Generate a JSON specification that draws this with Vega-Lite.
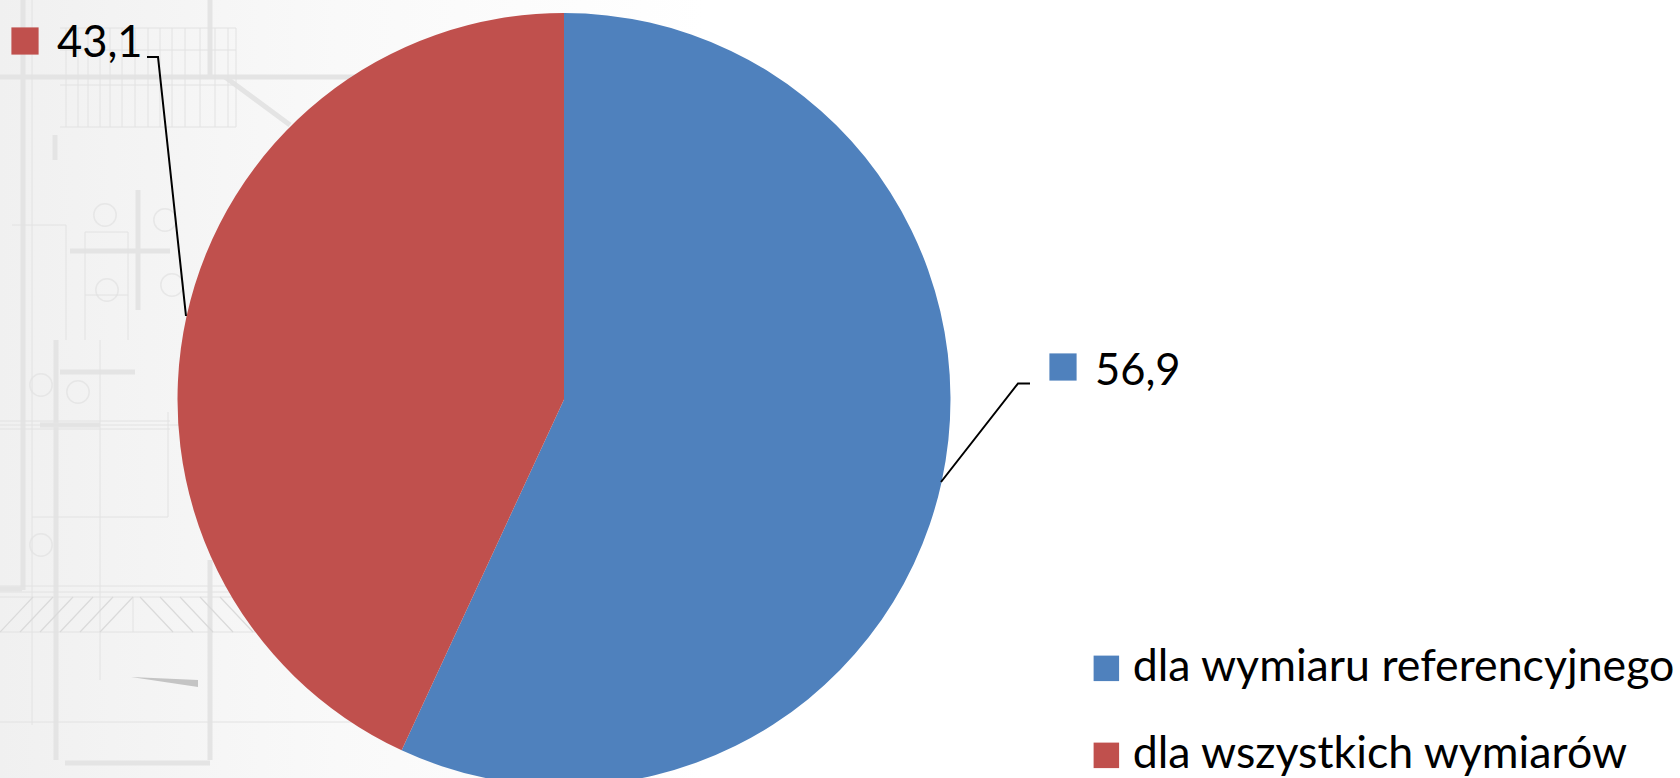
{
"$schema":"https://vega.github.io/schema/vega-lite/v6.json",
"width":1680,"height":778,"padding":0,"autosize":"none","background":"white",
"config":{"font":"Lato","view":{"stroke":null}},
"datasets":{
"udzial":[{"seria":"dla wymiaru referencyjnego","wartosc":56.9,"kolejnosc":1,"etykieta":"56,9","sx":1063,"sy":367,"tx":1095,"ty":385},{"seria":"dla wszystkich wymiarów","wartosc":43.1,"kolejnosc":2,"etykieta":"43,1","sx":25,"sy":41,"tx":57,"ty":57}],
"srodek":[{"seria":"dla wymiaru referencyjnego","wartosc":56.9,"kolejnosc":1},{"seria":"dla wszystkich wymiarów","wartosc":43.1,"kolejnosc":2}],
"linie":[{"id":"a","n":1,"x":1030,"y":383.5},{"id":"a","n":2,"x":1018,"y":383.5},{"id":"a","n":3,"x":941,"y":482},{"id":"b","n":1,"x":147,"y":57},{"id":"b","n":2,"x":158,"y":57},{"id":"b","n":3,"x":186,"y":316}],
"grube":[{"x":23,"y":0,"x2":23,"y2":590},{"x":210,"y":0,"x2":210,"y2":75},{"x":55,"y":135,"x2":55,"y2":160},{"x":138,"y":190,"x2":138,"y2":310},{"x":56,"y":340,"x2":56,"y2":760},{"x":210,"y":560,"x2":210,"y2":760},{"x":0,"y":77,"x2":420,"y2":77},{"x":225,"y":77,"x2":290,"y2":125},{"x":70,"y":251,"x2":170,"y2":251},{"x":0,"y":589,"x2":22,"y2":589},{"x":65,"y":763,"x2":210,"y2":763},{"x":40,"y":425,"x2":100,"y2":425},{"x":60,"y":372,"x2":135,"y2":372}],
"cienkie":[{"x":60,"y":28,"x2":236,"y2":28},{"x":60,"y":127,"x2":236,"y2":127},{"x":60,"y":50,"x2":236,"y2":50},{"x":60,"y":85,"x2":236,"y2":85},{"x":236,"y":28,"x2":236,"y2":127},{"x":66,"y":28,"x2":66,"y2":127},{"x":78,"y":28,"x2":78,"y2":127},{"x":88,"y":28,"x2":88,"y2":127},{"x":100,"y":28,"x2":100,"y2":127},{"x":110,"y":28,"x2":110,"y2":127},{"x":122,"y":28,"x2":122,"y2":127},{"x":135,"y":28,"x2":135,"y2":127},{"x":148,"y":28,"x2":148,"y2":127},{"x":160,"y":28,"x2":160,"y2":127},{"x":172,"y":28,"x2":172,"y2":127},{"x":185,"y":28,"x2":185,"y2":127},{"x":200,"y":28,"x2":200,"y2":127},{"x":215,"y":28,"x2":215,"y2":127},{"x":228,"y":28,"x2":228,"y2":127},{"x":32,"y":0,"x2":32,"y2":725},{"x":66,"y":225,"x2":66,"y2":340},{"x":85,"y":295,"x2":128,"y2":295},{"x":85,"y":232,"x2":128,"y2":232},{"x":85,"y":232,"x2":85,"y2":340},{"x":128,"y":232,"x2":128,"y2":340},{"x":12,"y":225,"x2":66,"y2":225},{"x":0,"y":421,"x2":170,"y2":421},{"x":0,"y":425,"x2":180,"y2":425},{"x":0,"y":429,"x2":170,"y2":429},{"x":32,"y":517,"x2":168,"y2":517},{"x":168,"y":412,"x2":168,"y2":517},{"x":0,"y":586,"x2":235,"y2":586},{"x":0,"y":592,"x2":235,"y2":592},{"x":0,"y":597,"x2":250,"y2":597},{"x":0,"y":632,"x2":270,"y2":632},{"x":0,"y":722,"x2":370,"y2":722},{"x":133,"y":597,"x2":133,"y2":632},{"x":100,"y":340,"x2":100,"y2":680}],
"kreskowanie":[{"x":0,"y":632,"x2":33,"y2":597},{"x":20,"y":632,"x2":53,"y2":597},{"x":40,"y":632,"x2":73,"y2":597},{"x":60,"y":632,"x2":93,"y2":597},{"x":80,"y":632,"x2":113,"y2":597},{"x":100,"y":632,"x2":133,"y2":597},{"x":140,"y":597,"x2":173,"y2":632},{"x":160,"y":597,"x2":193,"y2":632},{"x":180,"y":597,"x2":213,"y2":632},{"x":200,"y":597,"x2":233,"y2":632},{"x":220,"y":597,"x2":253,"y2":632},{"x":240,"y":597,"x2":270,"y2":630}],
"kola":[{"x":41,"y":385},{"x":41,"y":545},{"x":105,"y":215},{"x":107,"y":290},{"x":165,"y":220},{"x":172,"y":285},{"x":78,"y":392}],
"klin":[{"n":1,"x":131,"y":677},{"n":2,"x":198,"y":680},{"n":3,"x":198,"y":687},{"n":4,"x":131,"y":677}],
"tlo":[{"x":0,"y":0,"x2":1680,"y2":778}]
},
"encoding":{},
"layer":[
{"data":{"name":"tlo"},"mark":{"type":"rect","color":{"gradient":"linear","x1":0,"y1":0,"x2":1,"y2":0,"stops":[{"offset":0,"color":"#f0f0f0"},{"offset":0.2,"color":"#f9f9f9"},{"offset":0.42,"color":"#ffffff"},{"offset":1,"color":"#ffffff"}]}},
 "encoding":{"x":{"field":"x","type":"quantitative","scale":{"domain":[0,1680],"nice":false,"zero":false},"axis":null},"x2":{"field":"x2"},"y":{"field":"y","type":"quantitative","scale":{"domain":[0,778],"reverse":true,"nice":false,"zero":false},"axis":null},"y2":{"field":"y2"}}},
{"data":{"name":"grube"},"mark":{"type":"rule","color":"#e4e4e4","strokeWidth":5},
 "encoding":{"x":{"field":"x","type":"quantitative"},"x2":{"field":"x2"},"y":{"field":"y","type":"quantitative"},"y2":{"field":"y2"}}},
{"data":{"name":"cienkie"},"mark":{"type":"rule","color":"#e2e2e2","strokeWidth":1},
 "encoding":{"x":{"field":"x","type":"quantitative"},"x2":{"field":"x2"},"y":{"field":"y","type":"quantitative"},"y2":{"field":"y2"}}},
{"data":{"name":"kreskowanie"},"mark":{"type":"rule","color":"#dadada","strokeWidth":1.2},
 "encoding":{"x":{"field":"x","type":"quantitative"},"x2":{"field":"x2"},"y":{"field":"y","type":"quantitative"},"y2":{"field":"y2"}}},
{"data":{"name":"kola"},"mark":{"type":"point","shape":"circle","filled":false,"size":500,"color":"#e2e2e2","strokeWidth":1.5},
 "encoding":{"x":{"field":"x","type":"quantitative"},"y":{"field":"y","type":"quantitative"}}},
{"data":{"name":"klin"},"mark":{"type":"line","color":"#c4c4c4","filled":true,"strokeWidth":0},
 "encoding":{"x":{"field":"x","type":"quantitative"},"y":{"field":"y","type":"quantitative"},"order":{"field":"n"}}},
{"data":{"name":"srodek"},"mark":{"type":"arc","outerRadius":386.5},
 "encoding":{
  "x":{"datum":564,"type":"quantitative"},"y":{"datum":399.5,"type":"quantitative"},
  "theta":{"field":"wartosc","type":"quantitative","stack":true,"scale":{"domain":[0,100],"range":[0,6.283185307]}},
  "order":{"field":"kolejnosc"},
  "color":{"field":"seria","type":"nominal","sort":null,"scale":{"domain":["dla wymiaru referencyjnego","dla wszystkich wymiarów"],"range":["#4F81BD","#C0504D"]},
   "legend":{"title":null,"orient":"none","legendX":1084,"legendY":646,"padding":0,"symbolType":"square","symbolSize":650,"symbolStrokeWidth":0,"labelFontSize":44.7,"labelColor":"#000000","labelLimit":700,"labelOffset":4,"rowPadding":41,"labelFont":"Lato"}}}},
{"data":{"name":"linie"},"mark":{"type":"line","color":"#000000","strokeWidth":2},
 "encoding":{"x":{"field":"x","type":"quantitative"},"y":{"field":"y","type":"quantitative"},"detail":{"field":"id"},"order":{"field":"n"}}},
{"data":{"name":"udzial"},"mark":{"type":"point","shape":"square","filled":true,"size":740,"opacity":1,"strokeWidth":0},
 "encoding":{"x":{"field":"sx","type":"quantitative"},"y":{"field":"sy","type":"quantitative"},"color":{"field":"seria","type":"nominal"}}},
{"data":{"name":"udzial"},"mark":{"type":"text","align":"left","baseline":"alphabetic","fontSize":43.5,"color":"#000000"},
 "encoding":{"x":{"field":"tx","type":"quantitative"},"y":{"field":"ty","type":"quantitative"},"text":{"field":"etykieta"}}}
]
}
